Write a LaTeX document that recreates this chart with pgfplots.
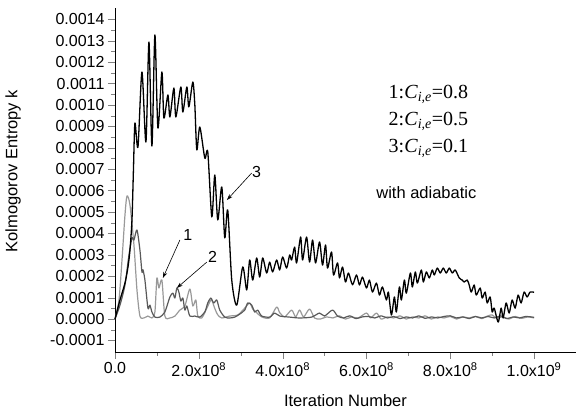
\documentclass[border=0pt]{standalone}
\usepackage{fontspec}
\setmainfont{Liberation Sans}
\newfontfamily\serif{Liberation Serif}
\usepackage{pgfplots}
\pgfplotsset{compat=1.18}
\usetikzlibrary{arrows.meta}

\begin{document}
\begin{tikzpicture}
\useasboundingbox (-115pt,-60pt) rectangle (461pt,352pt);
\begin{axis}[
    at={(0,0)}, anchor=south west,
    scale only axis,
    width=461pt, height=344pt,
    xmin=0, xmax=11,
    ymin=-1.54, ymax=14.53,
    axis x line*=bottom, axis y line*=left,
    tick align=outside,
    major tick length=7pt, minor tick length=4pt,
    xtick={0,2,4,6,8,10},
    xticklabels={0.0, 2.0x10\textsuperscript{8}, 4.0x10\textsuperscript{8}, 6.0x10\textsuperscript{8}, 8.0x10\textsuperscript{8}, 1.0x10\textsuperscript{9}},
    ytick={-1,0,...,14},
    yticklabels={-0.0001,0.0000,0.0001,0.0002,0.0003,0.0004,0.0005,0.0006,0.0007,0.0008,0.0009,0.0010,0.0011,0.0012,0.0013,0.0014},
    minor x tick num=1, minor y tick num=1,
    tick label style={font=\fontsize{16}{16}\selectfont},
    label style={font=\fontsize{16.5}{16.5}\selectfont},
    xlabel={Iteration Number},
    ylabel={Kolmogorov Entropy k},
    xlabel style={at={(axis description cs:0.5,-0.14)}, anchor=center},
    ylabel style={at={(axis description cs:-0.221,0.526)}, anchor=center},
    clip=false,
    every axis plot/.append style={line join=round, smooth, tension=0.45},
    ]
% 1: C=0.8
\addplot[color=black!40, line width=1.2pt] coordinates {
(0,0) (0.095,0.89) (0.167,2.76) (0.238,4.86) (0.286,5.75) (0.357,5.33) (0.452,3.46) (0.524,1.36) (0.595,0.14) (0.690,0.05) (0.786,0.14) (0.881,0.05) (0.952,0.33) (1.0,1.92) (1.048,1.45) (1.119,1.82) (1.190,0.14) (1.31,0.05) (1.429,0.14) (1.548,0.42) (1.667,0.61) (1.786,1.40) (1.857,0.61) (1.929,0.89) (1.976,0.14) (2.07,0.05) (2.143,0.3) (2.214,0.6) (2.3,0.9) (2.38,0.5) (2.45,0.2) (2.548,0.05) (2.738,0.14) (2.929,0.19) (3.095,0.51) (3.214,0.75) (3.286,0.47) (3.38,0.3) (3.5,0.1) (3.69,0.05) (3.857,0.56) (3.93,0.3) (4.05,0.1) (4.214,0.42) (4.31,0.1) (4.405,0.42) (4.5,0.1) (4.643,0.47) (4.76,0.05) (4.9,0.0) (5.05,0.1) (5.2,0.05) (5.35,0.15) (5.5,0.0) (5.65,0.1) (5.8,0.05) (6.0,0.28) (6.1,0.05) (6.24,0.28) (6.35,0.0) (6.5,0.1) (6.65,0.05) (6.8,0.15) (6.95,0.0) (7.1,0.1) (7.25,0.05) (7.4,0.15) (7.55,0.0) (7.7,0.1) (7.85,0.05) (8.0,0.12) (8.15,0.0) (8.3,0.1) (8.45,0.05) (8.6,0.12) (8.75,0.02) (8.9,0.15) (9.0,0.19) (9.1,0.05) (9.25,0.1) (9.4,0.0) (9.55,0.12) (9.7,0.03) (9.85,0.1) (10.0,0.05)
};
% 2: C=0.5
\addplot[color=black!65, line width=1.2pt] coordinates {
(0,0) (0.119,0.65) (0.238,1.59) (0.333,2.99) (0.405,3.79) (0.452,3.69) (0.524,4.16) (0.595,3.22) (0.643,2.20) (0.667,2.3) (0.714,1.82) (0.786,0.51) (0.833,0.65) (0.881,0.33) (0.952,0.09) (1.07,0.09) (1.19,0.33) (1.31,1.03) (1.381,1.21) (1.429,0.98) (1.476,1.45) (1.524,1.26) (1.571,0.84) (1.619,0.98) (1.667,0.42) (1.714,0.61) (1.786,0.14) (1.905,0.14) (2.02,0.09) (2.143,0.33) (2.214,0.75) (2.286,0.98) (2.357,0.75) (2.429,0.89) (2.5,0.42) (2.619,0.09) (2.738,0.05) (2.857,0.09) (2.976,0.23) (3.095,0.42) (3.167,0.75) (3.262,0.65) (3.333,0.33) (3.405,0.42) (3.5,0.14) (3.69,0.09) (3.81,0.28) (3.93,0.14) (4.17,0.09) (4.4,0.05) (4.69,0.09) (4.881,0.28) (5.0,0.14) (5.19,0.42) (5.31,0.14) (5.45,0.05) (5.6,0.15) (5.75,0.02) (5.9,0.1) (6.05,0.12) (6.2,0.05) (6.35,0.15) (6.5,0.05) (6.65,0.12) (6.8,0.02) (6.95,0.1) (7.1,0.05) (7.25,0.15) (7.4,0.03) (7.55,0.1) (7.7,0.05) (7.85,0.12) (8.0,0.15) (8.15,0.05) (8.3,0.1) (8.45,0.02) (8.6,0.12) (8.75,0.05) (8.9,0.12) (9.05,0.05) (9.2,0.15) (9.35,0.02) (9.5,0.1) (9.65,0.05) (9.8,0.12) (10.0,0.08)
};
% 3: C=0.1
\addplot[color=black, line width=1.3pt] coordinates {
(0,0) (0.119,0.89) (0.238,1.68) (0.310,2.43) (0.357,3.22) (0.405,4.63) (0.44,6.96) (0.476,9.16) (0.548,8.04) (0.643,11.54) (0.738,8.27) (0.810,12.94) (0.881,8.08) (0.952,13.27) (1.024,8.93) (1.119,11.54) (1.167,9.39) (1.262,10.47) (1.310,9.44) (1.405,10.79) (1.452,9.44) (1.571,10.84) (1.619,9.67) (1.714,10.84) (1.762,9.91) (1.857,11.07) (1.905,10.0) (1.952,7.90) (2.024,8.97) (2.143,7.52) (2.214,7.80) (2.310,4.77) (2.381,6.73) (2.452,4.63) (2.548,6.17) (2.619,3.79) (2.690,5.09) (2.786,1.82) (2.905,0.65) (3.048,2.43) (3.143,1.36) (3.214,2.76) (3.286,1.82) (3.381,2.85) (3.452,1.96) (3.524,2.85) (3.619,2.15) (3.690,2.66) (3.762,2.20) (3.857,2.76) (3.929,2.29) (4.0,2.90) (4.095,2.38) (4.167,2.99) (4.214,2.76) (4.286,3.36) (4.333,2.62) (4.429,3.83) (4.476,2.76) (4.571,3.83) (4.643,2.66) (4.714,3.69) (4.786,2.62) (4.881,3.60) (4.952,2.52) (5.024,3.46) (5.071,2.38) (5.167,3.13) (5.214,2.06) (5.310,2.62) (5.357,1.92) (5.429,2.43) (5.5,1.73) (5.571,2.15) (5.667,1.6) (5.762,2.06) (5.833,1.59) (5.905,1.96) (6.0,1.45) (6.071,1.82) (6.143,1.26) (6.238,1.68) (6.310,1.12) (6.381,1.50) (6.476,0.89) (6.524,1.26) (6.595,0.19) (6.667,1.03) (6.714,0.33) (6.786,1.50) (6.833,0.89) (6.905,1.82) (6.952,1.21) (7.048,2.15) (7.095,1.50) (7.167,2.20) (7.214,1.68) (7.310,2.29) (7.357,1.73) (7.429,2.20) (7.5,1.92) (7.571,2.29) (7.619,2.06) (7.690,2.38) (7.762,2.15) (7.833,2.38) (7.905,2.15) (7.976,2.38) (8.048,2.15) (8.119,2.29) (8.214,1.92) (8.286,1.82) (8.333,1.73) (8.405,1.82) (8.452,1.59) (8.5,1.26) (8.571,1.59) (8.619,1.12) (8.714,1.45) (8.762,0.98) (8.833,1.26) (8.881,0.75) (8.952,1.03) (9.0,0.33) (9.048,0.51) (9.143,-0.14) (9.214,0.51) (9.262,0.05) (9.333,0.75) (9.405,0.28) (9.476,0.89) (9.548,0.51) (9.619,1.12) (9.690,0.75) (9.762,1.26) (9.833,1.03) (9.905,1.26) (10.0,1.25)
};
% annotations
\draw[-{Stealth[length=6pt,width=4pt]}, line width=0.6pt] (axis cs:1.548,3.69) -- (axis cs:1.143,1.92);
\draw[-{Stealth[length=6pt,width=4pt]}, line width=0.6pt] (axis cs:2.19,2.66) -- (axis cs:1.476,1.45);
\draw[-{Stealth[length=6pt,width=4pt]}, line width=0.6pt] (axis cs:3.26,6.82) -- (axis cs:2.67,5.56);
\node[font=\fontsize{16}{16}\selectfont] at (axis cs:1.74,3.93) {1};
\node[font=\fontsize{16}{16}\selectfont] at (axis cs:2.33,2.9) {2};
\node[font=\fontsize{16}{16}\selectfont] at (axis cs:3.38,6.87) {3};
\node[align=center, font=\serif\fontsize{20}{27}\selectfont] at (axis cs:7.48,9.25)
  {1:\textit{C}\textsubscript{\textit{i,e}}=0.8\\2:\textit{C}\textsubscript{\textit{i,e}}=0.5\\3:\textit{C}\textsubscript{\textit{i,e}}=0.1};
\node[font=\fontsize{16.5}{16.5}\selectfont] at (axis cs:7.43,5.89) {with adiabatic};
\end{axis}
\end{tikzpicture}
\end{document}
